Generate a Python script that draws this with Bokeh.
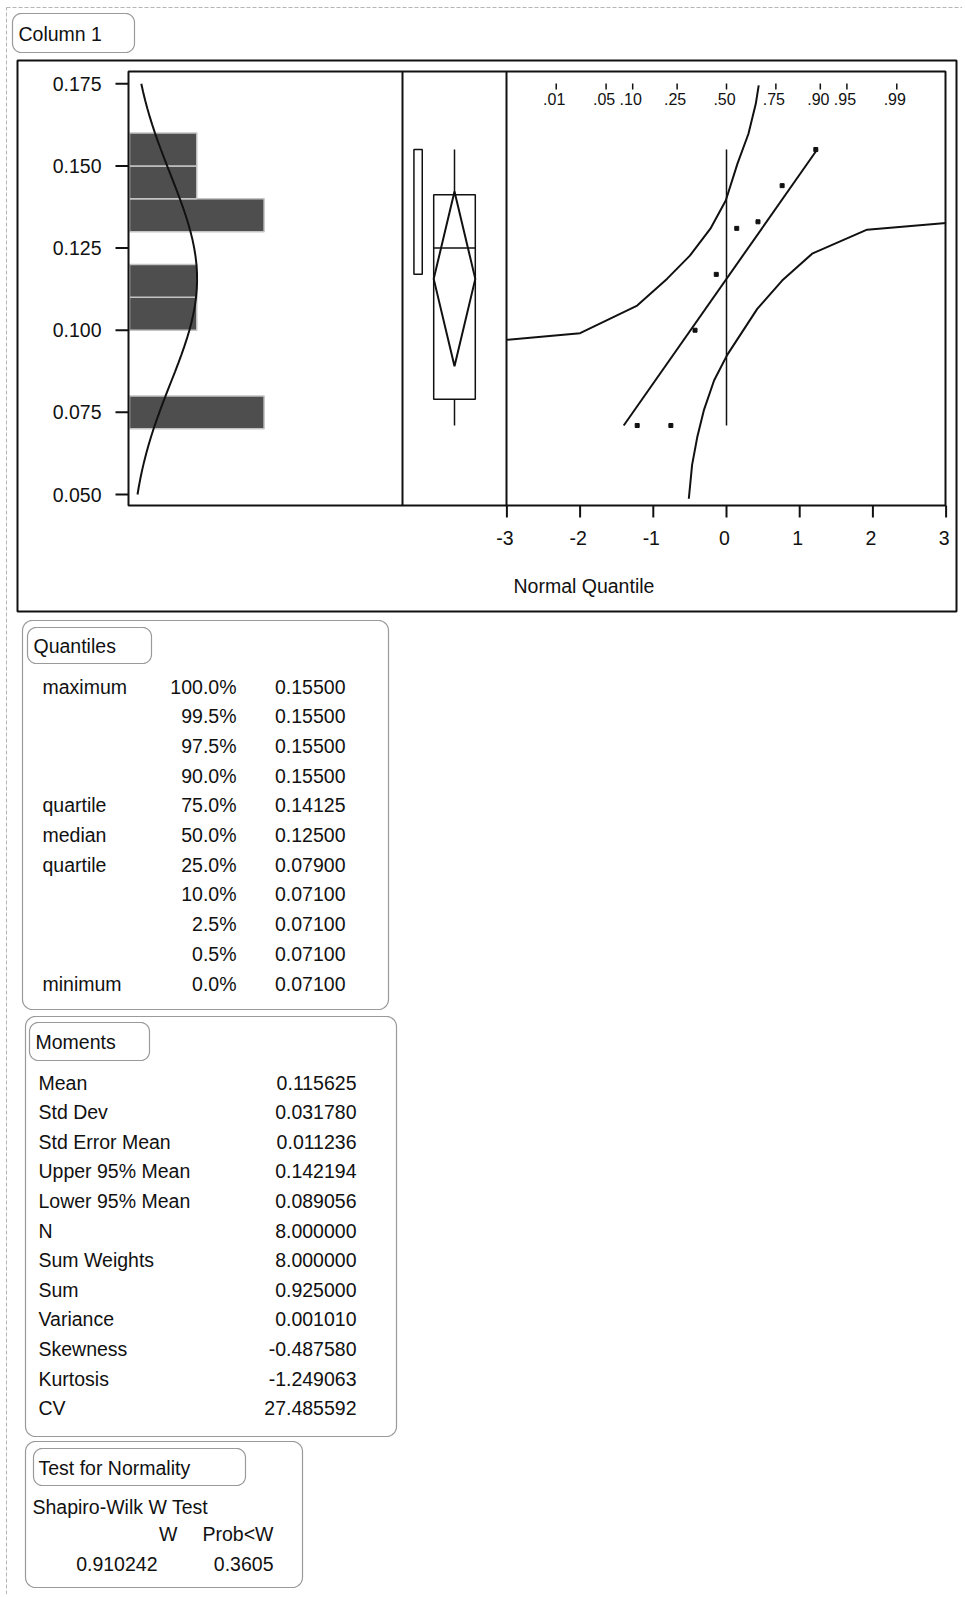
import math
from statistics import NormalDist
from bokeh.plotting import figure
from bokeh.models import Range1d
from bokeh.embed import file_html
from bokeh.resources import INLINE
from bokeh.core.properties import value

# ---------------- data ----------------
column_title = "Column 1"
values_sorted = [0.071, 0.071, 0.100, 0.117, 0.131, 0.133, 0.144, 0.155]
normal_scores = [-1.22, -0.76, -0.43, -0.14, 0.14, 0.43, 0.76, 1.22]

hist_bin_low = [0.07, 0.10, 0.11, 0.13, 0.14, 0.15]
hist_bin_high = [0.08, 0.11, 0.12, 0.14, 0.15, 0.16]
hist_counts = [2, 1, 1, 2, 1, 1]
hist_bin_width = 0.01

value_ticks = [0.050, 0.075, 0.100, 0.125, 0.150, 0.175]
value_tick_labels = ["0.050", "0.075", "0.100", "0.125", "0.150", "0.175"]
quantile_ticks = [-3, -2, -1, 0, 1, 2, 3]
quantile_tick_labels = ["-3", "-2", "-1", "0", "1", "2", "3"]
prob_levels = [0.01, 0.05, 0.10, 0.25, 0.50, 0.75, 0.90, 0.95, 0.99]
prob_labels = [".01", ".05", ".10", ".25", ".50", ".75", ".90", ".95", ".99"]
x_axis_title = "Normal Quantile"

upper_band_q = [-3.0, -2.0, -1.22, -0.81, -0.50, -0.22, -0.01, 0.15, 0.30, 0.40, 0.44]
upper_band_v = [0.0971, 0.0991, 0.1075, 0.1157, 0.1227, 0.1309, 0.1395, 0.1507, 0.1598, 0.1689, 0.1745]
lower_band_q = [-0.515, -0.47, -0.40, -0.31, -0.17, 0.01, 0.42, 0.76, 1.17, 1.92, 3.0]
lower_band_v = [0.0487, 0.0590, 0.0674, 0.0756, 0.0847, 0.0925, 0.1065, 0.1151, 0.1233, 0.1306, 0.1326]

v_min, q1, median, q3, v_max = 0.071, 0.07900, 0.12500, 0.14125, 0.155
mean, std_dev = 0.115625, 0.031780
upper95, lower95 = 0.142194, 0.089056
shortest_half_low, shortest_half_high = 0.117, 0.155
n_obs = 8

quantiles_title = "Quantiles"
quantile_names = ["maximum", "", "", "", "quartile", "median", "quartile", "", "", "", "minimum"]
quantile_pcts = ["100.0%", "99.5%", "97.5%", "90.0%", "75.0%", "50.0%", "25.0%",
                 "10.0%", "2.5%", "0.5%", "0.0%"]
quantile_values = ["0.15500", "0.15500", "0.15500", "0.15500", "0.14125", "0.12500",
                   "0.07900", "0.07100", "0.07100", "0.07100", "0.07100"]

moments_title = "Moments"
moment_names = ["Mean", "Std Dev", "Std Error Mean", "Upper 95% Mean", "Lower 95% Mean", "N",
                "Sum Weights", "Sum", "Variance", "Skewness", "Kurtosis", "CV"]
moment_values = ["0.115625", "0.031780", "0.011236", "0.142194", "0.089056", "8.000000",
                 "8.000000", "0.925000", "0.001010", "-0.487580", "-1.249063", "27.485592"]

normality_title = "Test for Normality"
normality_test = "Shapiro-Wilk W Test"
normality_headers = ["W", "Prob<W"]
normality_values = ["0.910242", "0.3605"]

# ---------------- layout (page pixels) ----------------
FIG_W, FIG_H = 962, 1594
PX0, PY0 = 0, 0
PX1, PY1 = PX0 + FIG_W, PY0 + FIG_H

FONT = value("Liberation Sans")
FS = "19.5px"
INK = "#111111"
GRAY = "#9a9a9a"

# value axis: 0.050 at y=494, 0.175 at y=83.3
VY0, VK = 494.0, (494.0 - 83.3) / 0.125
def val_at(py):
    return 0.05 + (VY0 - py) / VK

# normal quantile axis: 0 at x=726, 73.2 px per unit
QX0, QK = 726.0, 73.2
def q_at(px):
    return (px - QX0) / QK

# histogram count axis: 0 at x=129, 67.3 px per count
CX0, CK = 129.0, 67.3
def c_at(px):
    return (px - CX0) / CK

# box panel: 0..1 spans x=402..506
BX0, BK = 402.0, 104.0
def b_at(px):
    return (px - BX0) / BK

p = figure(width=FIG_W, height=FIG_H,
           x_range=Range1d(PX0, PX1), y_range=Range1d(PY1, PY0),
           x_axis_type=None, y_axis_type=None,
           output_backend="svg", toolbar_location=None,
           min_border=0, min_border_left=0, min_border_right=0,
           min_border_top=0, min_border_bottom=0)
p.grid.visible = False
p.outline_line_color = None
p.background_fill_color = "white"
p.border_fill_color = "white"

p.extra_y_ranges = {"val": Range1d(val_at(PY1), val_at(PY0))}
p.extra_x_ranges = {
    "qq": Range1d(q_at(PX0), q_at(PX1)),
    "cnt": Range1d(c_at(PX0), c_at(PX1)),
    "box": Range1d(b_at(PX0), b_at(PX1)),
}


def rrect(x0, y0, x1, y1, r, n=8):
    xs, ys = [], []
    corners = [(x1 - r, y0 + r, -90), (x1 - r, y1 - r, 0), (x0 + r, y1 - r, 90), (x0 + r, y0 + r, 180)]
    for cx, cy, a0 in corners:
        for i in range(n + 1):
            a = math.radians(a0 + 90 * i / n)
            xs.append(cx + r * math.cos(a))
            ys.append(cy + r * math.sin(a))
    return xs, ys


def txt(x, y, t, align="left", size=FS, **kw):
    p.text(x=x, y=y, text=t, text_align=align, text_baseline="middle",
           text_font=FONT, text_font_size=size, text_color=INK, **kw)


# ---------------- page decorations ----------------
p.line([6, 6], [PY1, 7], line_color="#b5b5b5", line_dash="4 2", line_width=1)
p.line([6, PX1], [7, 7], line_color="#b5b5b5", line_dash="4 2", line_width=1)

tab_xs, tab_ys = rrect(12, 13, 134, 52, 9)
p.patch(tab_xs, tab_ys, fill_color=None, line_color=GRAY, line_width=1.2)
txt(18, 33, [column_title])

# black outer frame of the chart
p.quad(left=17, right=956, top=60, bottom=611, fill_color=None, line_color=INK, line_width=2)

# ---------------- histogram panel ----------------
p.quad(left=[0] * len(hist_counts), right=hist_counts, bottom=hist_bin_low, top=hist_bin_high,
       fill_color="#4e4e4e", line_color="#c4c4c4", line_width=1.5,
       x_range_name="cnt", y_range_name="val")

nd = NormalDist(mean, std_dev)
curve_v = [0.05 + i * 0.0025 for i in range(51)]
curve_c = [n_obs * hist_bin_width * nd.pdf(v) for v in curve_v]
p.line(curve_c, curve_v, line_color=INK, line_width=2, x_range_name="cnt", y_range_name="val")

# value axis ticks and labels
p.segment(x0=115, x1=128, y0=value_ticks, y1=value_ticks, line_color=INK, line_width=2, y_range_name="val")
txt(101, value_ticks, value_tick_labels, align="right", y_range_name="val")

# ---------------- panel frames ----------------
p.quad(left=128, right=945, top=71, bottom=505, fill_color=None, line_color=INK, line_width=2)
p.segment(x0=[402, 506], x1=[402, 506], y0=[71, 71], y1=[505, 505], line_color=INK, line_width=2)

# ---------------- box plot panel ----------------
p.quad(left=0.11, right=0.19, bottom=shortest_half_low, top=shortest_half_high,
       fill_color=None, line_color=INK, line_width=1.5, x_range_name="box", y_range_name="val")
p.quad(left=0.30, right=0.70, bottom=q1, top=q3, fill_color=None, line_color=INK, line_width=1.5,
       x_range_name="box", y_range_name="val")
p.segment(x0=[0.5, 0.5, 0.3], x1=[0.5, 0.5, 0.7], y0=[q3, q1, median], y1=[v_max, v_min, median],
          line_color=INK, line_width=1.5, x_range_name="box", y_range_name="val")
p.patch([0.5, 0.7, 0.5, 0.3], [upper95, mean, lower95, mean], fill_color=None, line_color=INK,
        line_width=2, x_range_name="box", y_range_name="val")

# ---------------- normal quantile panel ----------------
p.line(upper_band_q, upper_band_v, line_color=INK, line_width=2, x_range_name="qq", y_range_name="val")
p.line(lower_band_q, lower_band_v, line_color=INK, line_width=2, x_range_name="qq", y_range_name="val")
p.segment(x0=[0], x1=[0], y0=[v_min], y1=[v_max], line_color=INK, line_width=1.5,
          x_range_name="qq", y_range_name="val")
p.segment(x0=[(v_min - mean) / std_dev], x1=[(v_max - mean) / std_dev], y0=[v_min], y1=[v_max],
          line_color=INK, line_width=2, x_range_name="qq", y_range_name="val")
p.scatter(normal_scores, values_sorted, marker="square", size=4, color=INK,
          x_range_name="qq", y_range_name="val")

std_normal = NormalDist()
prob_pos = [std_normal.inv_cdf(pr) for pr in prob_levels]
p.segment(x0=prob_pos, x1=prob_pos, y0=83, y1=89, line_color=INK, line_width=1.5, x_range_name="qq")
txt(prob_pos, 98, prob_labels, align="center", size="16px", x_offset=-2, x_range_name="qq")

p.segment(x0=quantile_ticks, x1=quantile_ticks, y0=505, y1=517, line_color=INK, line_width=2,
          x_range_name="qq")
txt(quantile_ticks, 537, quantile_tick_labels, align="center", x_offset=-2, x_range_name="qq")
txt(513, 585, [x_axis_title])

# ---------------- Quantiles table ----------------
bx, by = rrect(22, 620, 388, 1009, 10)
p.patch(bx, by, fill_color=None, line_color=GRAY, line_width=1.2)
bx, by = rrect(27, 627, 151, 663, 9)
p.patch(bx, by, fill_color=None, line_color=GRAY, line_width=1.2)
txt(33, 645, [quantiles_title])
q_rows = [686 + i * 29.7 for i in range(len(quantile_pcts))]
txt(42, q_rows, quantile_names)
txt(236, q_rows, quantile_pcts, align="right")
txt(345, q_rows, quantile_values, align="right")

# ---------------- Moments table ----------------
bx, by = rrect(25, 1016, 396, 1436, 10)
p.patch(bx, by, fill_color=None, line_color=GRAY, line_width=1.2)
bx, by = rrect(29, 1022, 149, 1060, 9)
p.patch(bx, by, fill_color=None, line_color=GRAY, line_width=1.2)
txt(35, 1041, [moments_title])
m_rows = [1082 + i * 29.6 for i in range(len(moment_names))]
txt(38, m_rows, moment_names)
txt(356, m_rows, moment_values, align="right")

# ---------------- Test for Normality ----------------
bx, by = rrect(25, 1441, 302, 1587, 10)
p.patch(bx, by, fill_color=None, line_color=GRAY, line_width=1.2)
bx, by = rrect(33, 1448, 245, 1485, 9)
p.patch(bx, by, fill_color=None, line_color=GRAY, line_width=1.2)
txt(38, 1467, [normality_title])
txt(32, 1506, [normality_test])
txt([177, 273], [1533, 1533], normality_headers, align="right")
txt([157, 273], [1563, 1563], normality_values, align="right")

open("out.html", "w").write(file_html(p, INLINE))
